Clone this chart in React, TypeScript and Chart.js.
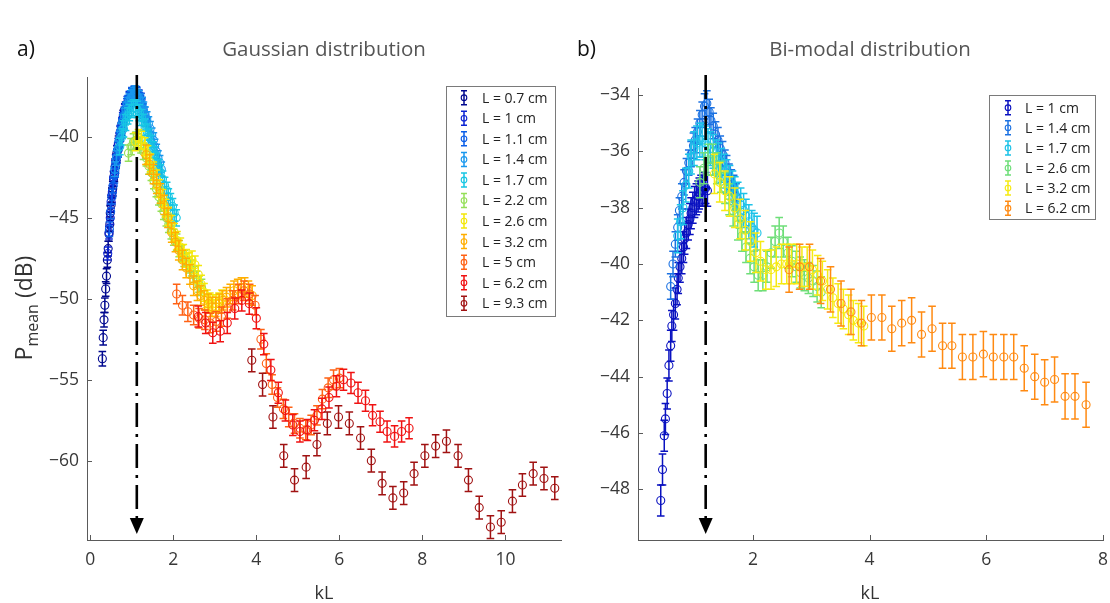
import { useEffect, useRef } from "react";
import { Chart, registerables } from "chart.js";

Chart.register(...registerables);

const FONT = "'Open Sans', 'Noto Sans', 'DejaVu Sans', sans-serif";

// ---------- shared kL grids ----------
const kL_07 = [0.29,0.31,0.33,0.35,0.37,0.39,0.41,0.43,0.45,0.47,0.48,0.50,0.52,0.54,0.56,0.58,0.60,0.62,0.64,0.66,0.68,0.70,0.72,0.74,0.76,0.78,0.79,0.81,0.83,0.85];
const kL_10 = [0.42,0.45,0.48,0.50,0.53,0.56,0.59,0.61,0.64,0.67,0.70,0.72,0.75,0.78,0.81,0.83,0.86,0.89,0.92,0.94,0.97,1.00,1.03,1.06,1.08,1.11,1.14,1.17,1.19,1.22];
const kL_11 = [0.46,0.49,0.52,0.55,0.58,0.61,0.64,0.67,0.70,0.73,0.76,0.79,0.82,0.85,0.88,0.91,0.94,0.97,1.00,1.03,1.06,1.09,1.12,1.15,1.18,1.21,1.24,1.27,1.30,1.33];
const kL_14 = [0.59,0.63,0.67,0.71,0.74,0.78,0.82,0.86,0.90,0.94,0.98,1.01,1.05,1.09,1.13,1.17,1.21,1.25,1.28,1.32,1.36,1.40,1.44,1.48,1.52,1.55,1.59,1.63,1.67,1.71];
const kL_17 = [0.71,0.76,0.80,0.85,0.90,0.94,0.99,1.04,1.09,1.13,1.18,1.23,1.27,1.32,1.37,1.41,1.46,1.51,1.55,1.60,1.65,1.69,1.74,1.79,1.84,1.88,1.93,1.98,2.02,2.07];
const kL_22 = [0.92,0.98,1.04,1.10,1.16,1.22,1.28,1.35,1.41,1.47,1.53,1.59,1.65,1.71,1.77,1.83,1.89,1.95,2.01,2.08,2.14,2.20,2.26,2.32,2.38,2.44,2.50,2.56,2.62,2.68];
const kL_26 = [1.09,1.16,1.23,1.31,1.38,1.45,1.52,1.59,1.66,1.74,1.81,1.88,1.95,2.02,2.09,2.17,2.24,2.31,2.38,2.45,2.52,2.60,2.67,2.74,2.81,2.88,2.95,3.03,3.10,3.17];
const kL_32 = [1.34,1.43,1.52,1.60,1.69,1.78,1.87,1.96,2.05,2.13,2.22,2.31,2.40,2.49,2.58,2.66,2.75,2.84,2.93,3.02,3.11,3.19,3.28,3.37,3.46,3.55,3.64,3.72,3.81,3.90];
const kL_50 = [2.08,2.22,2.35,2.49,2.62,2.76,2.89,3.03,3.16,3.30,3.43,3.57,3.70,3.84,3.97,4.11,4.24,4.38,4.51,4.65,4.78,4.92,5.05,5.19,5.32,5.46,5.59,5.73,5.86,6.00];
const kL_62 = [2.60,2.78,2.95,3.13,3.30,3.48,3.65,3.83,4.00,4.18,4.35,4.53,4.70,4.88,5.05,5.23,5.40,5.58,5.75,5.93,6.10,6.28,6.45,6.63,6.80,6.98,7.15,7.33,7.50,7.68];
const kL_93 = [3.89,4.15,4.40,4.66,4.92,5.20,5.46,5.71,5.98,6.24,6.51,6.77,7.03,7.29,7.55,7.80,8.06,8.32,8.58,8.86,9.11,9.37,9.64,9.90,10.17,10.41,10.67,10.93,11.19];
const kL_62b = [2.62,2.80,2.97,3.16,3.33,3.51,3.68,3.86,4.03,4.21,4.38,4.55,4.72,4.89,5.07,5.25,5.41,5.59,5.77,5.95,6.12,6.30,6.47,6.65,6.83,7.00,7.17,7.35,7.52,7.71];

// ---------- a) Gaussian distribution ----------
const gaussLabels = ["L = 0.7 cm","L = 1 cm","L = 1.1 cm","L = 1.4 cm","L = 1.7 cm","L = 2.2 cm","L = 2.6 cm","L = 3.2 cm","L = 5 cm","L = 6.2 cm","L = 9.3 cm"];
const gaussP_07 = [-53.7,-52.4,-51.3,-50.4,-49.4,-48.6,-47.6,-46.9,-46.0,-45.4,-44.7,-44.2,-43.6,-43.2,-42.6,-42.3,-41.8,-41.5,-41.0,-40.8,-40.4,-40.2,-39.8,-39.6,-39.3,-39.1,-38.8,-38.7,-38.4,-38.3];
const gaussP_10 = [-47.2,-45.9,-45.0,-44.0,-43.4,-42.5,-42.1,-41.5,-41.2,-40.5,-40.2,-39.7,-39.5,-38.9,-38.8,-38.4,-38.3,-37.9,-37.9,-37.6,-37.7,-37.4,-37.5,-37.3,-37.5,-37.3,-37.6,-37.5,-37.8,-37.7];
const gaussP_11 = [-45.7,-44.6,-43.7,-43.0,-42.4,-41.8,-41.2,-40.8,-40.2,-39.8,-39.3,-39.0,-38.6,-38.4,-38.1,-37.9,-37.7,-37.6,-37.4,-37.5,-37.3,-37.4,-37.4,-37.6,-37.7,-37.9,-38.1,-38.4,-38.6,-38.9];
const gaussP_14 = [-42.0,-41.3,-40.7,-40.1,-39.6,-39.1,-38.7,-38.3,-38.0,-37.8,-37.6,-37.5,-37.4,-37.3,-37.5,-37.6,-37.8,-38.0,-38.3,-38.6,-38.9,-39.2,-39.5,-39.9,-40.2,-40.6,-40.9,-41.3,-41.6,-42.0];
const gaussP_17 = [-40.6,-40.0,-39.5,-39.1,-38.7,-38.5,-38.3,-38.2,-38.2,-38.3,-38.5,-38.8,-39.1,-39.4,-39.7,-40.0,-40.4,-40.8,-41.1,-41.5,-41.9,-42.2,-42.6,-43.0,-43.3,-43.7,-44.0,-44.3,-44.7,-45.0];
const gaussP_22 = [-41.0,-40.6,-40.3,-40.2,-40.3,-40.5,-40.9,-41.3,-41.8,-42.2,-42.7,-43.2,-43.7,-44.1,-44.6,-45.0,-45.4,-45.8,-46.2,-46.5,-46.9,-47.2,-47.5,-47.7,-47.9,-48.1,-48.5,-48.8,-49.1,-49.3];
const gaussP_26 = [-40.3,-40.1,-40.2,-40.6,-41.1,-41.6,-42.1,-42.6,-43.2,-43.8,-44.4,-44.9,-45.4,-45.9,-46.4,-46.8,-47.2,-47.5,-47.7,-47.6,-47.9,-48.5,-49.1,-49.6,-50.0,-50.2,-50.3,-50.3,-50.2,-50.0];
const gaussP_32 = [-41.1,-41.7,-42.3,-42.9,-43.5,-44.2,-45.0,-45.9,-46.5,-47.0,-47.6,-48.1,-48.5,-49.2,-49.5,-49.8,-50.1,-50.3,-50.5,-50.5,-50.3,-50.1,-49.9,-49.7,-49.5,-49.4,-49.3,-49.3,-49.5,-49.8];
const gaussP_50 = [-49.7,-50.4,-50.8,-51.0,-51.2,-51.3,-51.5,-51.4,-51.1,-50.6,-50.1,-49.7,-49.5,-49.7,-50.4,-52.5,-54.0,-55.3,-56.1,-56.8,-57.3,-57.7,-58.0,-58.1,-57.8,-57.2,-56.2,-55.5,-55.0,-54.9];
const gaussP_62 = [-51.1,-51.5,-52.1,-52.0,-51.5,-50.6,-50.1,-50.3,-51.2,-52.8,-54.4,-55.8,-56.9,-57.8,-58.2,-58.1,-57.5,-56.8,-56.1,-55.4,-55.0,-55.2,-55.8,-56.3,-57.2,-57.6,-58.2,-58.5,-58.2,-58.0];
const gaussP_93 = [-53.8,-55.3,-57.3,-59.7,-61.2,-60.4,-59.0,-57.7,-57.3,-57.7,-58.6,-60.0,-61.4,-62.3,-62.0,-60.8,-59.7,-59.1,-58.8,-59.7,-61.2,-62.9,-64.1,-63.8,-62.5,-61.5,-60.8,-61.1,-61.7];
const gaussErr = [0.45, 0.4, 0.45, 0.45, 0.5, 0.5, 0.55, 0.6, 0.6, 0.65, 0.7];
const gaussX = [kL_07, kL_10, kL_11, kL_14, kL_17, kL_22, kL_26, kL_32, kL_50, kL_62, kL_93];
const gaussY = [gaussP_07, gaussP_10, gaussP_11, gaussP_14, gaussP_17, gaussP_22, gaussP_26, gaussP_32, gaussP_50, gaussP_62, gaussP_93];
const gaussColors = ["#00088f","#0a22d2","#0a5ee8","#1898ee","#17c6e4","#95df58","#f4e80a","#ffae00","#ff6214","#f01212","#a01212"];
const gaussXTicks = [0, 2, 4, 6, 8, 10];
const gaussYTicks = [-60, -55, -50, -45, -40];
const gaussMarkKL = 1.12;

// ---------- b) Bi-modal distribution ----------
const bimodalLabels = ["L = 1 cm","L = 1.4 cm","L = 1.7 cm","L = 2.6 cm","L = 3.2 cm","L = 6.2 cm"];
const bimodalP_10 = [-48.4,-47.3,-46.1,-45.5,-44.6,-43.6,-42.9,-42.2,-41.8,-41.4,-40.9,-40.5,-40.1,-39.8,-39.4,-39.1,-38.9,-38.6,-38.4,-38.2,-38.0,-37.8,-37.7,-37.6,-37.5,-37.4,-37.4,-37.3,-37.3,-37.4];
const bimodalP_14 = [-40.8,-40.0,-39.3,-38.7,-38.1,-37.6,-37.1,-36.7,-36.4,-36.1,-35.8,-35.6,-35.3,-35.0,-34.7,-34.4,-34.3,-34.6,-34.9,-35.1,-35.4,-35.6,-35.9,-36.1,-36.4,-36.6,-36.9,-37.1,-37.3,-37.6];
const bimodalP_17 = [-39.0,-38.5,-38.0,-37.2,-36.7,-36.2,-35.9,-35.7,-35.6,-35.6,-35.7,-35.8,-35.9,-36.0,-36.2,-36.3,-36.5,-36.7,-36.9,-37.1,-37.3,-37.5,-37.7,-37.9,-38.1,-38.3,-38.5,-38.7,-38.8,-38.9];
const bimodalP_26 = [-37.1,-36.6,-36.3,-36.3,-36.6,-36.9,-37.3,-37.7,-38.1,-38.6,-39.0,-39.4,-39.8,-40.1,-40.4,-40.4,-40.1,-39.6,-39.2,-38.9,-39.2,-39.6,-39.9,-40.1,-40.3,-40.4,-40.5,-40.6,-40.8,-41.0];
const bimodalP_32 = [-36.8,-37.1,-37.4,-37.6,-38.0,-38.4,-38.8,-39.2,-39.6,-39.9,-40.2,-40.2,-40.1,-40.0,-40.0,-40.0,-40.0,-40.1,-40.1,-40.2,-40.4,-40.6,-40.9,-41.2,-41.4,-41.6,-41.8,-42.0,-42.1,-42.2];
const bimodalP_62 = [-40.2,-40.1,-40.1,-40.6,-40.9,-41.4,-41.7,-42.1,-41.9,-41.9,-42.3,-42.1,-42.0,-42.5,-42.3,-42.9,-42.9,-43.3,-43.3,-43.2,-43.3,-43.3,-43.3,-43.7,-44.0,-44.2,-44.1,-44.7,-44.7,-45.0];
const bimodalErr = [0.55, 0.45, 0.6, 0.55, 0.7, 0.8];
const bimodalX = [kL_10, kL_14, kL_17, kL_26, kL_32, kL_62b];
const bimodalY = [bimodalP_10, bimodalP_14, bimodalP_17, bimodalP_26, bimodalP_32, bimodalP_62];
const bimodalColors = ["#0a12c0","#1c72e2","#1cc2e8","#6ede78","#f6ea12","#ff8a12"];
const bimodalXTicks = [2, 4, 6, 8];
const bimodalYTicks = [-48, -46, -44, -42, -40, -38, -36, -34];
const bimodalMarkKL = 1.19;

const AXIS = "#5a5a5a";
const TICKTXT = "#383838";

const fmt = (v: number) => (v < 0 ? "\u2212" + Math.abs(v) : String(v));

const errorBarPlugin = {
  id: "errorBars",
  beforeDatasetDraw(chart: any, args: any) {
    const ds = chart.data.datasets[args.index];
    const ys = chart.scales.y;
    const ctx = chart.ctx;
    ctx.save();
    ctx.strokeStyle = ds.borderColor;
    ctx.lineWidth = 1.5;
    const cap = 3.8;
    args.meta.data.forEach((pt: any, i: number) => {
      const v = ds.data[i].y;
      const e = ds.errorValue;
      const x = pt.x;
      const y1 = ys.getPixelForValue(v - e);
      const y2 = ys.getPixelForValue(v + e);
      ctx.beginPath();
      ctx.moveTo(x, y1);
      ctx.lineTo(x, y2);
      ctx.moveTo(x - cap, y1);
      ctx.lineTo(x + cap, y1);
      ctx.moveTo(x - cap, y2);
      ctx.lineTo(x + cap, y2);
      ctx.stroke();
    });
    ctx.restore();
  },
};

const markerLinePlugin = {
  id: "markerLine",
  afterDatasetsDraw(chart: any, _a: any, opts: any) {
    const ctx = chart.ctx;
    const x = chart.scales.x.getPixelForValue(opts.value);
    const bottom = chart.chartArea.bottom;
    ctx.save();
    ctx.strokeStyle = "#000";
    ctx.lineWidth = 2.6;
    ctx.setLineDash([24, 7, 3, 7]);
    ctx.beginPath();
    ctx.moveTo(x, opts.top);
    ctx.lineTo(x, bottom - 20);
    ctx.stroke();
    ctx.setLineDash([]);
    ctx.fillStyle = "#000";
    ctx.beginPath();
    ctx.moveTo(x - 7, bottom - 22);
    ctx.lineTo(x + 7, bottom - 22);
    ctx.lineTo(x, bottom - 6);
    ctx.closePath();
    ctx.fill();
    ctx.restore();
  },
};

const innerTicksPlugin = {
  id: "innerTicks",
  afterDraw(chart: any) {
    const ctx = chart.ctx;
    const { left, bottom } = chart.chartArea;
    ctx.save();
    ctx.strokeStyle = AXIS;
    ctx.lineWidth = 1;
    chart.scales.x.ticks.forEach((t: any) => {
      const px = Math.round(chart.scales.x.getPixelForValue(t.value)) + 0.5;
      ctx.beginPath();
      ctx.moveTo(px, bottom);
      ctx.lineTo(px, bottom - 5);
      ctx.stroke();
    });
    chart.scales.y.ticks.forEach((t: any) => {
      const py = Math.round(chart.scales.y.getPixelForValue(t.value)) + 0.5;
      ctx.beginPath();
      ctx.moveTo(left, py);
      ctx.lineTo(left + 5, py);
      ctx.stroke();
    });
    ctx.restore();
  },
};

const boxLegendPlugin = {
  id: "boxLegend",
  afterDraw(chart: any, _a: any, o: any) {
    const ctx = chart.ctx;
    ctx.save();
    ctx.fillStyle = "#fff";
    ctx.fillRect(o.left, o.top, o.right - o.left, o.bottom - o.top);
    ctx.strokeStyle = "#7a7a7a";
    ctx.lineWidth = 1;
    ctx.strokeRect(o.left + 0.5, o.top + 0.5, o.right - o.left, o.bottom - o.top);
    chart.data.datasets.forEach((ds: any, i: number) => {
      const y = o.firstRow + i * o.rowStep;
      const x = o.markerX;
      ctx.strokeStyle = ds.borderColor;
      ctx.lineWidth = 1.5;
      ctx.beginPath();
      ctx.moveTo(x, y - 7);
      ctx.lineTo(x, y + 7);
      ctx.moveTo(x - 3, y - 7);
      ctx.lineTo(x + 3, y - 7);
      ctx.moveTo(x - 3, y + 7);
      ctx.lineTo(x + 3, y + 7);
      ctx.stroke();
      ctx.lineWidth = 1.1;
      ctx.beginPath();
      ctx.arc(x, y, 2.8, 0, Math.PI * 2);
      ctx.stroke();
      ctx.fillStyle = "#222";
      ctx.font = `14px ${FONT}`;
      ctx.textBaseline = "middle";
      ctx.textAlign = "left";
      ctx.fillText(ds.label, o.textX, y + 1);
    });
    ctx.restore();
  },
};

function buildDatasets(labels: string[], xs: number[][], ys: number[][], errs: number[], colors: string[]) {
  const n = labels.length;
  return labels.map((label, i) => ({
    label,
    data: xs[i].map((x, j) => ({ x, y: ys[i][j] })),
    errorValue: errs[i],
    borderColor: colors[i],
    backgroundColor: "rgba(0,0,0,0)",
    pointStyle: "circle",
    pointRadius: 4,
    pointHoverRadius: 4,
    pointBorderWidth: 1.1,
    showLine: false,
    order: n - i,
  }));
}

function makeConfig(p: any) {
  const tickFont = { family: FONT, size: 17.5 };
  return {
    type: "scatter",
    data: { datasets: p.datasets },
    options: {
      animation: false,
      responsive: false,
      maintainAspectRatio: false,
      devicePixelRatio: 1,
      events: [],
      layout: { padding: { left: 0, right: p.padRight, top: p.padTop, bottom: 0 } },
      plugins: {
        legend: { display: false },
        tooltip: { enabled: false },
        title: { display: false },
        boxLegend: p.legend,
        markerLine: { value: p.markKL, top: 75 },
      },
      scales: {
        x: {
          type: "linear",
          position: "bottom",
          min: p.xMin,
          max: p.xMax,
          afterFit: (s: any) => {
            s.height = 63;
            s.paddingLeft = 0;
            s.paddingRight = 0;
          },
          afterBuildTicks: (s: any) => {
            s.ticks = p.xTicks.map((v: number) => ({ value: v }));
          },
          border: { display: true, color: AXIS, width: 1 },
          grid: { display: true, drawOnChartArea: false, drawTicks: false },
          ticks: { autoSkip: false, maxRotation: 0, padding: 10, color: TICKTXT, font: tickFont, callback: (v: any) => fmt(Number(v)) },
        },
        y: {
          type: "linear",
          position: "left",
          min: p.yMin,
          max: p.yMax,
          afterFit: (s: any) => {
            s.width = p.yWidth;
            s.paddingTop = 0;
            s.paddingBottom = 0;
          },
          afterBuildTicks: (s: any) => {
            s.ticks = p.yTicks.map((v: number) => ({ value: v }));
          },
          border: { display: true, color: AXIS, width: 1 },
          grid: { display: true, drawOnChartArea: false, drawTicks: false },
          ticks: { autoSkip: false, padding: 8, color: TICKTXT, font: tickFont, callback: (v: any) => fmt(Number(v)) },
        },
      },
    },
    plugins: [errorBarPlugin, markerLinePlugin, innerTicksPlugin, boxLegendPlugin],
  };
}

export default function App() {
  const refA = useRef<HTMLCanvasElement>(null);
  const refB = useRef<HTMLCanvasElement>(null);

  useEffect(() => {
    const cfgA = makeConfig({
      datasets: buildDatasets(gaussLabels, gaussX, gaussY, gaussErr, gaussColors),
      xMin: -0.08, xMax: 11.34, yMin: -64.9, yMax: -36.3,
      xTicks: gaussXTicks, yTicks: gaussYTicks,
      padTop: 77, padRight: 14, yWidth: 87, markKL: gaussMarkKL,
      legend: { left: 446, right: 555, top: 86, bottom: 316, firstRow: 97.7, rowStep: 20.56, markerX: 464, textX: 482 },
    });
    const cfgB = makeConfig({
      datasets: buildDatasets(bimodalLabels, bimodalX, bimodalY, bimodalErr, bimodalColors),
      xMin: 0.03, xMax: 8.0, yMin: -49.8, yMax: -33.75,
      xTicks: bimodalXTicks, yTicks: bimodalYTicks,
      padTop: 88, padRight: 7, yWidth: 63, markKL: bimodalMarkKL,
      legend: { left: 414, right: 520, top: 95, bottom: 219, firstRow: 107.7, rowStep: 20.1, markerX: 433, textX: 450 },
    });
    const a = new Chart(refA.current as HTMLCanvasElement, cfgA as any);
    const b = new Chart(refB.current as HTMLCanvasElement, cfgB as any);
    return () => {
      a.destroy();
      b.destroy();
    };
  }, []);

  const abs = (s: any) => ({ position: "absolute" as const, ...s });

  return (
    <div style={{ position: "absolute", left: 0, top: 0, width: 1110, height: 603, background: "#fff", overflow: "hidden", fontFamily: FONT }}>
      <canvas ref={refA} width={575} height={603} style={abs({ left: 0, top: 0 })} />
      <canvas ref={refB} width={535} height={603} style={abs({ left: 575, top: 0 })} />
      <div style={abs({ left: 17, top: 35, fontSize: 21, color: "#111", lineHeight: "26px" })}>a)</div>
      <div style={abs({ left: 577, top: 35, fontSize: 21, color: "#111", lineHeight: "26px" })}>b)</div>
      <div style={abs({ left: 204, width: 240, top: 35, fontSize: 20.5, color: "#555", lineHeight: "26px", textAlign: "center", whiteSpace: "nowrap" })}>Gaussian distribution</div>
      <div style={abs({ left: 750, width: 240, top: 35, fontSize: 20.5, color: "#555", lineHeight: "26px", textAlign: "center", whiteSpace: "nowrap" })}>Bi-modal distribution</div>
      <div style={abs({ left: 284, width: 80, top: 579, fontSize: 18, color: "#333", lineHeight: "26px", textAlign: "center" })}>kL</div>
      <div style={abs({ left: 830, width: 80, top: 579, fontSize: 18, color: "#333", lineHeight: "26px", textAlign: "center" })}>kL</div>
      <div
        style={abs({
          left: 27,
          top: 308,
          transform: "translate(-50%, -50%) rotate(-90deg)",
          whiteSpace: "nowrap",
          fontSize: 23,
          color: "#333",
          lineHeight: "30px",
        })}
      >
        P<sub style={{ fontSize: 16, verticalAlign: "-6px" }}>mean</sub> (dB)
      </div>
    </div>
  );
}
